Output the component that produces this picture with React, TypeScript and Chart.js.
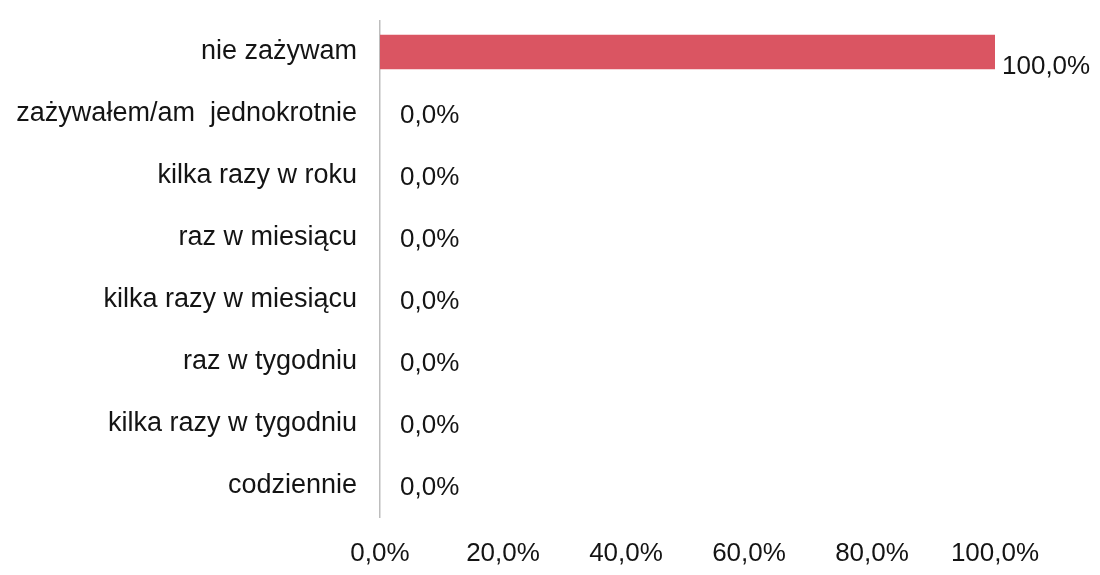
import React, { useEffect, useRef } from "react";
import { Chart, registerables } from "chart.js";

Chart.register(...registerables);

const categories = [
  "nie zażywam",
  "zażywałem/am  jednokrotnie",
  "kilka razy w roku",
  "raz w miesiącu",
  "kilka razy w miesiącu",
  "raz w tygodniu",
  "kilka razy w tygodniu",
  "codziennie",
];
const values = [100, 0, 0, 0, 0, 0, 0, 0];
const xTicks = [0, 20, 40, 60, 80, 100];

const FONT = "'Liberation Sans', Arial, sans-serif";
const TEXT = "#141414";
const BAR = "#da5562";
const fmt = (v: number) => v.toFixed(1).replace(".", ",") + "%";

const labelPlugin = {
  id: "valueLabels",
  afterDatasetsDraw(chart: any) {
    const ctx = chart.ctx;
    const meta = chart.getDatasetMeta(0);
    ctx.save();
    ctx.font = `26px ${FONT}`;
    ctx.fillStyle = TEXT;
    ctx.textAlign = "left";
    ctx.textBaseline = "middle";
    meta.data.forEach((bar: any, i: number) => {
      const v = values[i];
      const x = bar.x + (v > 0 ? 7 : 20);
      ctx.fillText(fmt(v), x, bar.y + (v > 0 ? 15 : 2));
    });
    ctx.restore();
  },
};

export default function App() {
  const ref = useRef<HTMLCanvasElement | null>(null);
  useEffect(() => {
    if (!ref.current) return;
    const chart = new Chart(ref.current, {
      type: "bar",
      data: {
        labels: categories,
        datasets: [
          {
            data: values,
            backgroundColor: (c: any) => (c.raw > 0 ? BAR : "rgba(0,0,0,0)"),
            barThickness: 34,
          },
        ],
      },
      options: {
        indexAxis: "y",
        animation: false,
        responsive: true,
        maintainAspectRatio: false,
        layout: { padding: { top: 13, right: 97, left: 0, bottom: 0 } },
        plugins: { legend: { display: false }, tooltip: { enabled: false } },
        scales: {
          x: {
            min: 0,
            max: 100,
            afterBuildTicks: (s: any) => {
              s.ticks = xTicks.map((v) => ({ value: v }));
            },
            afterFit: (s: any) => {
              s.height = 50;
              s.paddingLeft = 0;
              s.paddingRight = 0;
            },
            grid: { display: false },
            border: { display: false },
            ticks: {
              color: TEXT,
              font: { family: FONT, size: 26 },
              padding: 13,
              callback: (v: any) => fmt(Number(v)),
              maxRotation: 0,
            },
          },
          y: {
            afterFit: (s: any) => {
              s.width = 372;
              s.paddingTop = 0;
              s.paddingBottom = 0;
            },
            grid: { display: false },
            border: { display: true, color: "#bdbdbd", width: 1.5 },
            ticks: {
              color: TEXT,
              font: { family: FONT, size: 27 },
              padding: 15,
            },
          },
        },
      },
      plugins: [labelPlugin],
    });
    return () => chart.destroy();
  }, []);
  return (
    <div style={{ width: 1084, height: 559, position: "relative" }}>
      <canvas ref={ref} />
    </div>
  );
}
